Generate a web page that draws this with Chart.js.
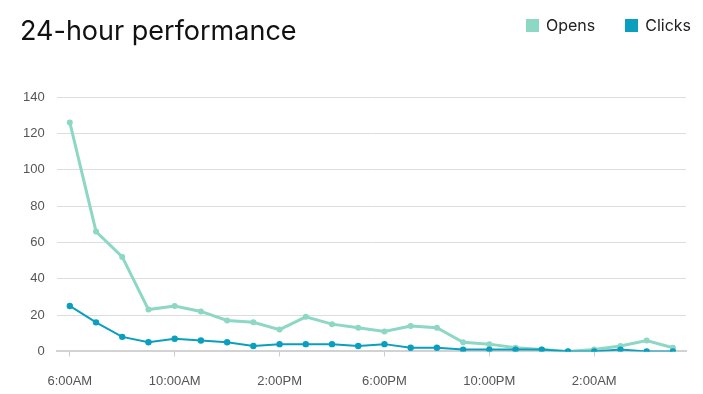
<!DOCTYPE html>
<html>
<head>
<meta charset="utf-8">
<script src="https://cdn.jsdelivr.net/npm/chart.js@4"></script>
<style>
  html, body { margin: 0; padding: 0; background: #fff; }
  #wrap { position: relative; width: 703px; height: 394px; }
  #chart { position: absolute; left: 0; top: 0; }
  #title {
    position: absolute; left: 20px; top: 14px;
    font-family: Inter, "Noto Sans", sans-serif; font-size: 27px; color: #111;
  }
  #legend {
    position: absolute; right: 12px; top: 15px;
    font-family: Inter, "Noto Sans", sans-serif; font-size: 16px; color: #222;
    display: flex;
  }
  .item { display: flex; align-items: center; margin-left: 30px; }
  .box { width: 13px; height: 13px; margin-right: 7px; }
</style>
</head>
<body>
<div id="wrap">
  <canvas id="chart" width="703" height="394"></canvas>
  <div id="title">24-hour performance</div>
  <div id="legend"></div>
</div>
<script>
const hours = ['6:00AM', '7:00AM', '8:00AM', '9:00AM', '10:00AM', '11:00AM',
  '12:00PM', '1:00PM', '2:00PM', '3:00PM', '4:00PM', '5:00PM',
  '6:00PM', '7:00PM', '8:00PM', '9:00PM', '10:00PM', '11:00PM',
  '12:00AM', '1:00AM', '2:00AM', '3:00AM', '4:00AM', '5:00AM'];
const opens = [126, 66, 52, 23, 25, 22, 17, 16, 12, 19, 15, 13,
  11, 14, 13, 5, 4, 2, 1, 0, 1, 3, 6, 2];
const clicks = [25, 16, 8, 5, 7, 6, 5, 3, 4, 4, 4, 3,
  4, 2, 2, 1, 1, 1, 1, 0, 0, 1, 0, 0];
const seriesNames = ['Opens', 'Clicks'];
const seriesColors = ['#8dd7c5', '#0a9fbf'];

const legendEl = document.getElementById('legend');
seriesNames.forEach((name, i) => {
  const item = document.createElement('div');
  item.className = 'item';
  item.innerHTML = '<span class="box" style="background:' + seriesColors[i] + '"></span>' + name;
  legendEl.appendChild(item);
});

const tickFont = { family: '"Liberation Sans", Arial, sans-serif', size: 13 };

new Chart(document.getElementById('chart'), {
  type: 'line',
  data: {
    labels: hours,
    datasets: [
      {
        label: seriesNames[0],
        data: opens,
        borderColor: seriesColors[0],
        backgroundColor: seriesColors[0],
        borderWidth: 3,
        pointRadius: 1.5,
        pointHoverRadius: 1.5,
        tension: 0,
        order: 2
      },
      {
        label: seriesNames[1],
        data: clicks,
        borderColor: seriesColors[1],
        backgroundColor: seriesColors[1],
        borderWidth: 2,
        pointRadius: 2.2,
        pointHoverRadius: 2.2,
        tension: 0,
        order: 1
      }
    ]
  },
  options: {
    responsive: false,
    animation: false,
    layout: { padding: { top: 97, left: 11, right: 17, bottom: -12 } },
    plugins: { legend: { display: false }, tooltip: { enabled: false } },
    scales: {
      x: {
        offset: true,
        grid: {
          offset: false,
          drawOnChartArea: false,
          drawTicks: true,
          tickLength: 5,
          color: '#cccccc'
        },
        border: { display: true, width: 2, color: '#d2d2d2' },
        ticks: {
          autoSkip: false,
          maxRotation: 0,
          color: '#555',
          font: tickFont,
          padding: 17,
          callback: function (val, i) { return i % 4 === 0 ? hours[i] : null; }
        }
      },
      y: {
        min: 0,
        max: 140,
        grid: { color: '#dddddd', drawTicks: false },
        border: { display: false },
        ticks: { stepSize: 20, color: '#555', font: tickFont, padding: 12 }
      }
    }
  }
});
</script>
</body>
</html>
